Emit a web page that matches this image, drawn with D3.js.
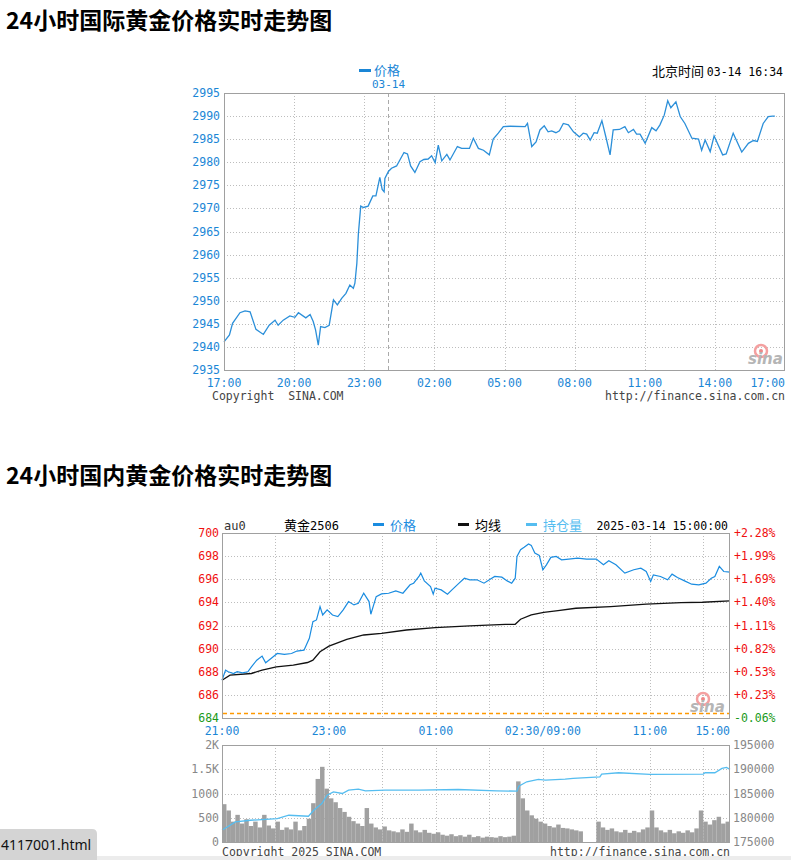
<!DOCTYPE html>
<html><head><meta charset="utf-8">
<script src="https://cdn.jsdelivr.net/npm/d3@7"></script>
<style>
body{margin:0;background:#fff;overflow:hidden;}
svg{display:block;}
</style></head><body>
<svg id="c" width="791" height="860"></svg>
<script>
// ---------------- DATA ----------------
// International gold (USD/oz), 24h from 17:00
const intlTimes = ["17:00","17:14","17:22","17:41","17:54","18:07","18:22","18:41","18:56","19:11","19:19","19:32","19:49","20:02","20:11","20:30","20:41","20:49","20:55","21:02","21:08","21:19","21:30","21:41","21:51","22:02","22:13","22:23","22:32","22:36","22:41","22:45","22:51","22:58","23:10","23:22","23:30","23:40","23:46","23:51","23:53","00:02","00:10","00:23","00:42","00:51","00:59","01:10","01:23","01:33","01:44","01:53","02:02","02:10","02:19","02:32","02:40","02:59","03:10","03:30","03:40","03:53","04:06","04:21","04:31","04:44","04:57","05:14","05:53","05:59","06:10","06:21","06:31","06:42","06:52","07:01","07:12","07:21","07:31","07:44","07:57","08:12","08:22","08:31","08:40","08:50","08:58","09:10","09:21","09:31","09:39","09:55","10:09","10:18","10:31","10:39","10:48","11:01","11:18","11:29","11:39","11:50","11:59","12:07","12:20","12:31","12:43","13:01","13:18","13:26","13:35","13:48","13:58","14:20","14:29","14:47","15:09","15:26","15:39","15:49","16:04","16:17","16:28","16:34"];
const intlPrices = [2941.1,2942.6,2945.1,2947.4,2947.8,2947.6,2943.8,2942.7,2944.7,2945.8,2944.7,2945.8,2946.7,2946.4,2947.4,2946.3,2947.0,2945.5,2943.7,2940.4,2944.4,2944.2,2944.7,2950.2,2949.1,2950.5,2951.6,2953.4,2952.7,2953.8,2958.1,2964.6,2970.5,2970.2,2970.5,2972.7,2972.7,2976.7,2974.1,2973.6,2976.5,2978.0,2978.7,2979.2,2982.1,2981.8,2979.2,2977.8,2980.1,2980.6,2980.7,2981.4,2979.9,2983.7,2980.3,2981.7,2980.5,2983.4,2983.0,2983.0,2985.2,2983.0,2982.6,2981.6,2985.0,2986.3,2987.7,2987.8,2987.7,2988.4,2983.4,2984.4,2987.0,2987.9,2986.6,2986.8,2986.4,2986.8,2988.4,2988.1,2986.6,2985.5,2986.3,2986.1,2984.8,2986.4,2986.3,2989.0,2985.2,2981.6,2987.0,2987.1,2987.7,2986.4,2987.1,2986.1,2986.1,2984.1,2987.5,2986.8,2988.1,2990.2,2993.3,2991.8,2993.1,2989.9,2988.4,2985.2,2985.0,2982.6,2984.8,2982.3,2985.7,2981.6,2981.8,2986.3,2982.2,2984.1,2984.7,2984.5,2988.4,2989.9,2990.0,2990.0];
const intlYTicks = [2935,2940,2945,2950,2955,2960,2965,2970,2975,2980,2985,2990,2995];
const intlXLabels = ["17:00","20:00","23:00","02:00","05:00","08:00","11:00","14:00","17:00"];
const intlDateMark = "00:00";

// Domestic gold au0 (CNY/g); time = minutes along the session axis (night 21:00-02:30, day 09:00-15:00)
const domTimes = [0,4,7,13,17,23,29,33,39,45,49,55,62,70,78,84,92,98,102,106,110,113,118,124,130,136,142,148,153,159,165,167,173,179,187,195,203,211,215,221,223,227,234,237,239,246,253,258,266,272,278,286,294,300,306,314,320,325,329,331,335,339,344,347,351,356,360,364,369,375,381,389,399,409,420,428,434,442,452,462,470,476,481,484,492,500,505,511,519,527,535,543,549,553,558,563,570];
const domPrices = [687.27,688.14,688.0,687.85,688.0,687.9,688.0,688.43,689.0,689.35,688.78,689.15,689.58,689.5,689.58,689.79,689.87,690.89,692.33,692.48,693.64,692.91,693.35,692.91,692.77,693.35,694.07,693.78,693.92,694.79,694.07,692.97,694.5,694.73,694.79,695.0,694.79,695.52,695.66,696.24,696.53,695.86,695.37,694.71,695.23,695.08,694.71,695.08,695.66,696.09,695.95,695.95,695.66,695.95,696.24,696.18,695.86,695.66,696.09,697.97,698.55,698.76,699.05,698.93,698.26,698.06,696.82,697.25,697.89,697.97,697.68,697.74,697.83,697.74,697.74,697.25,697.6,697.25,696.53,696.82,696.96,696.67,695.8,696.38,696.24,695.95,696.44,696.15,695.86,695.57,695.52,695.66,696.09,696.24,697.11,696.67,696.62];
const avgTimes = [0,9,33,45,61,80,96,102,110,120,140,159,179,207,239,278,318,329,335,347,361,377,397,436,476,515,539,570];
const avgPrices = [687.27,687.7,687.85,688.14,688.43,688.57,688.8,689.0,689.73,690.22,690.8,691.18,691.32,691.61,691.81,691.96,692.1,692.1,692.54,692.91,693.14,693.29,693.49,693.64,693.84,693.98,694.01,694.13];
const oiTimes = [0,15,32,62,75,97,103,112,118,125,135,142,153,161,183,221,265,308,331,333,342,355,363,385,394,424,426,445,480,540,542,553,561,566,570];
const oiValues = [177414,179138,179483,179828,180517,180310,181552,182931,184655,185345,185000,185690,185897,185552,185690,185690,185828,185552,185483,186517,187414,187897,187759,187966,188103,188448,189000,189276,188931,189000,189276,189276,190172,190379,189966];
// volume in 5-minute buckets along the session axis
const volValues = [780,650,420,560,380,470,330,420,300,560,340,280,420,250,300,260,420,240,330,480,800,1300,1550,1100,900,820,700,620,520,430,380,330,700,380,300,260,320,240,220,200,260,210,380,240,200,250,190,170,200,150,130,160,120,140,110,150,100,120,90,110,100,90,120,100,110,130,1250,900,650,550,480,420,380,330,300,360,290,280,260,240,220,0,0,0,420,300,250,280,220,200,250,190,230,200,260,300,650,300,240,200,250,180,220,190,240,200,280,650,420,360,450,520,380,420];
const domYTicks = [684,686,688,690,692,694,696,698,700];
const pctLabels = ["-0.06%","+0.23%","+0.53%","+0.82%","+1.11%","+1.40%","+1.69%","+1.99%","+2.28%"];
const prevSettle = 684.4;
const domXLabels = ["21:00","23:00","01:00","02:30/09:00","11:00","15:00"];
const domXTickTimes = [0,120,240,360,480,570];
const volTicks = [0,500,1000,1500,2000];
const volLabels = ["0","500","1000","1.5K","2K"];
const oiTicks = [175000,180000,185000,190000,195000];

// ---------------- DRAW ----------------
const svg = d3.select("#c");
const MONO = "'DejaVu Sans Mono','Liberation Mono',monospace";
const CJK = "'Noto Sans CJK SC','Noto Sans',sans-serif";
const BLUE = "#1a86d6";
const GRID = "#bdbdbd";

function toMin17(t){const [h,m]=t.split(":").map(Number);return ((h*60+m)-17*60+1440)%1440;}

svg.append("rect").attr("width",791).attr("height",860).attr("fill","#fff");

// titles
svg.append("text").attr("x",6).attr("y",29).attr("font-family",CJK).attr("font-weight","bold")
  .attr("font-size",23).attr("fill","#000").text("24小时国际黄金价格实时走势图");
svg.append("text").attr("x",6).attr("y",484).attr("font-family",CJK).attr("font-weight","bold")
  .attr("font-size",23).attr("fill","#000").text("24小时国内黄金价格实时走势图");

function sinaLogo(g, x, y){
  g.append("circle").attr("cx",x+13).attr("cy",y-13).attr("r",6).attr("fill","none").attr("stroke","#f4a0a0").attr("stroke-width",2.5);
  g.append("circle").attr("cx",x+13).attr("cy",y-13).attr("r",2).attr("fill","#e88");
  g.append("text").attr("x",x).attr("y",y).attr("font-family","'DejaVu Sans',sans-serif").attr("font-style","italic")
    .attr("font-weight","bold").attr("font-size",15).attr("fill","#b5b5b5").text("sina");
}

// ===== Chart 1 =====
{
  const L=224,R=785,T=93,B=370;
  const g = svg.append("g");
  const x = d3.scaleLinear().domain([0,1440]).range([L,R]);
  const y = d3.scaleLinear().domain([2935,2995]).range([B,T]);
  intlYTicks.slice(1,-1).forEach(v=>{
    g.append("line").attr("x1",L).attr("x2",R).attr("y1",Math.round(y(v))+0.5).attr("y2",Math.round(y(v))+0.5)
     .attr("stroke",GRID).attr("stroke-dasharray","1,2");
  });
  intlXLabels.forEach((lab,i)=>{
    if(i===0||i===intlXLabels.length-1) return;
    const xx=Math.round(x(i*180))+0.5;
    g.append("line").attr("x1",xx).attr("x2",xx).attr("y1",T).attr("y2",B).attr("stroke",GRID).attr("stroke-dasharray","1,2");
  });
  const dm = Math.round(x(toMin17(intlDateMark)))+0.5;
  g.append("line").attr("x1",dm).attr("x2",dm).attr("y1",T).attr("y2",B).attr("stroke","#aaa").attr("stroke-dasharray","4,3");
  sinaLogo(g, 748, 364);
  const pts = intlTimes.map((t,i)=>[toMin17(t), intlPrices[i]]);
  g.append("path").datum(pts).attr("fill","none").attr("stroke","#2b8fd9").attr("stroke-width",1.3)
   .attr("d", d3.line().x(d=>x(d[0])).y(d=>y(d[1])));
  g.append("rect").attr("x",L+0.5).attr("y",T+0.5).attr("width",R-L-1).attr("height",B-T).attr("fill","none").attr("stroke","#a0a0a0");
  intlYTicks.forEach(v=>{
    g.append("text").attr("x",L-4).attr("y",y(v)+4).attr("text-anchor","end").attr("font-family",MONO)
     .attr("font-size",11.5).attr("fill",BLUE).text(v);
  });
  intlXLabels.forEach((lab,i)=>{
    const last = i===intlXLabels.length-1;
    g.append("text").attr("x", last? R : x(i*180)).attr("y",387).attr("text-anchor", last?"end":"middle")
     .attr("font-family",MONO).attr("font-size",11.5).attr("fill",BLUE).text(lab);
  });
  g.append("text").attr("x",212).attr("y",400).attr("font-family",MONO).attr("font-size",11.5).attr("fill","#444").attr("xml:space","preserve").text("Copyright  SINA.COM");
  g.append("text").attr("x",R).attr("y",400).attr("text-anchor","end").attr("font-family",MONO).attr("font-size",11.5).attr("fill","#444").text("http://finance.sina.com.cn");
  g.append("rect").attr("x",359).attr("y",69).attr("width",12).attr("height",3).attr("fill",BLUE);
  g.append("text").attr("x",374).attr("y",75).attr("font-family",CJK).attr("font-size",13).attr("fill",BLUE).text("价格");
  g.append("text").attr("x",dm).attr("y",88).attr("text-anchor","middle").attr("font-family",MONO).attr("font-size",11).attr("fill",BLUE).text("03-14");
  const tt = g.append("text").attr("x",R-2).attr("y",76).attr("text-anchor","end");
  tt.append("tspan").attr("font-family",CJK).attr("font-size",13).attr("fill","#000").text("北京时间 ");
  tt.append("tspan").attr("font-family",MONO).attr("font-size",11.5).attr("fill","#000").text("03-14 16:34");
}

// ===== Chart 2 =====
{
  const L=222,R=730,T=533,B=718;
  const VT=745, VB=842;
  const g = svg.append("g");
  const x = d3.scaleLinear().domain([0,570]).range([L,R]);
  const y = d3.scaleLinear().domain([684,700]).range([B,T]);
  const yv = d3.scaleLinear().domain([0,2000]).range([VB,VT]);
  const yo = d3.scaleLinear().domain([175000,195000]).range([VB,VT]);

  domYTicks.slice(1,-1).forEach(v=>{
    const yy=Math.round(y(v))+0.5;
    g.append("line").attr("x1",L).attr("x2",R).attr("y1",yy).attr("y2",yy).attr("stroke",GRID).attr("stroke-dasharray","1,2");
  });
  volTicks.slice(1,-1).forEach(v=>{
    const yy=Math.round(yv(v))+0.5;
    g.append("line").attr("x1",L).attr("x2",R).attr("y1",yy).attr("y2",yy).attr("stroke",GRID).attr("stroke-dasharray","1,2");
  });
  for(let m=60;m<570;m+=60){
    const xx=Math.round(x(m))+0.5;
    g.append("line").attr("x1",xx).attr("x2",xx).attr("y1",T).attr("y2",B).attr("stroke",GRID).attr("stroke-dasharray","1,2");
    g.append("line").attr("x1",xx).attr("x2",xx).attr("y1",VT).attr("y2",VB).attr("stroke",GRID).attr("stroke-dasharray","1,2");
  }
  sinaLogo(g, 690, 712);
  const ps = Math.round(y(prevSettle))+0.5;
  g.append("line").attr("x1",L+1).attr("x2",R-1).attr("y1",ps).attr("y2",ps).attr("stroke","#ff9900").attr("stroke-dasharray","4,3").attr("stroke-width",1.6);

  g.append("path").datum(avgTimes.map((t,i)=>[t,avgPrices[i]])).attr("fill","none").attr("stroke","#111").attr("stroke-width",1.3)
   .attr("d", d3.line().x(d=>x(d[0])).y(d=>y(d[1])));
  g.append("path").datum(domTimes.map((t,i)=>[t,domPrices[i]])).attr("fill","none").attr("stroke","#1a8ce0").attr("stroke-width",1.2)
   .attr("d", d3.line().x(d=>x(d[0])).y(d=>y(d[1])));

  volValues.forEach((v,i)=>{
    if(!v) return;
    const x0=x(i*5), x1=x(i*5+5);
    g.append("rect").attr("x",x0).attr("y",yv(v)).attr("width",x1-x0).attr("height",VB-yv(v)).attr("fill","#a0a0a0");
  });
  g.append("path").datum(oiTimes.map((t,i)=>[t,oiValues[i]])).attr("fill","none").attr("stroke","#55bdf0").attr("stroke-width",1.3)
   .attr("d", d3.line().x(d=>x(d[0])).y(d=>yo(d[1])));

  g.append("rect").attr("x",L+0.5).attr("y",T+0.5).attr("width",R-L-1).attr("height",B-T).attr("fill","none").attr("stroke","#a0a0a0");
  g.append("rect").attr("x",L+0.5).attr("y",VT+0.5).attr("width",R-L-1).attr("height",VB-VT).attr("fill","none").attr("stroke","#a0a0a0");

  domYTicks.forEach((v,i)=>{
    const c = v<prevSettle? "#1a9a1a":"#f01010";
    g.append("text").attr("x",L-3).attr("y",y(v)+4).attr("text-anchor","end").attr("font-family",MONO).attr("font-size",11.5).attr("fill",c).text(v);
    g.append("text").attr("x",R+4).attr("y",y(v)+4).attr("font-family",MONO).attr("font-size",11.5).attr("fill",c).text(pctLabels[i]);
  });
  domXLabels.forEach((lab,i)=>{
    const last = i===domXLabels.length-1;
    g.append("text").attr("x", last? R : x(domXTickTimes[i])).attr("y",735).attr("text-anchor", last?"end":"middle")
     .attr("font-family",MONO).attr("font-size",11.5).attr("fill",BLUE).text(lab);
  });
  volTicks.forEach((v,i)=>{
    g.append("text").attr("x",L-3).attr("y",yv(v)+4).attr("text-anchor","end").attr("font-family",MONO).attr("font-size",11.5).attr("fill","#888").text(volLabels[i]);
  });
  oiTicks.forEach(v=>{
    g.append("text").attr("x",R+3).attr("y",yo(v)+4).attr("font-family",MONO).attr("font-size",11.5).attr("fill","#888").text(v);
  });
  g.append("text").attr("x",L).attr("y",856).attr("font-family",MONO).attr("font-size",11.5).attr("fill","#444").text("Copyright 2025 SINA.COM");
  g.append("text").attr("x",R).attr("y",856).attr("text-anchor","end").attr("font-family",MONO).attr("font-size",11.5).attr("fill","#444").text("http://finance.sina.com.cn");

  g.append("text").attr("x",224).attr("y",530).attr("font-family",MONO).attr("font-size",12).attr("fill","#333").text("au0");
  const h2 = g.append("text").attr("x",284).attr("y",530);
  h2.append("tspan").attr("font-family",CJK).attr("font-size",13).attr("fill","#000").text("黄金");
  h2.append("tspan").attr("font-family",MONO).attr("font-size",12).attr("fill","#000").text("2506");
  const leg = [["价格","#1a8ce0",373],["均线","#111",458],["持仓量","#55bdf0",526]];
  leg.forEach(([t,c,xx])=>{
    g.append("rect").attr("x",xx).attr("y",523).attr("width",11).attr("height",3).attr("fill",c);
    g.append("text").attr("x",xx+17).attr("y",530).attr("font-family",CJK).attr("font-size",13).attr("fill",c==="#111"?"#000":c).text(t);
  });
  g.append("text").attr("x",R-2).attr("y",530).attr("text-anchor","end").attr("font-family",MONO).attr("font-size",11.5).attr("fill","#000").text("2025-03-14 15:00:00");
}

// browser status tab
svg.append("rect").attr("x",0).attr("y",856).attr("width",791).attr("height",4).attr("fill","#ececec");
svg.append("path").attr("d","M0,829 H92 Q97,829 97,834 V860 H0 Z").attr("fill","#d4d4d4");
svg.append("text").attr("x",1).attr("y",850).attr("font-family","'Noto Sans','DejaVu Sans',sans-serif").attr("font-size",14).attr("fill","#111").text("4117001.html");
</script>
</body></html>
